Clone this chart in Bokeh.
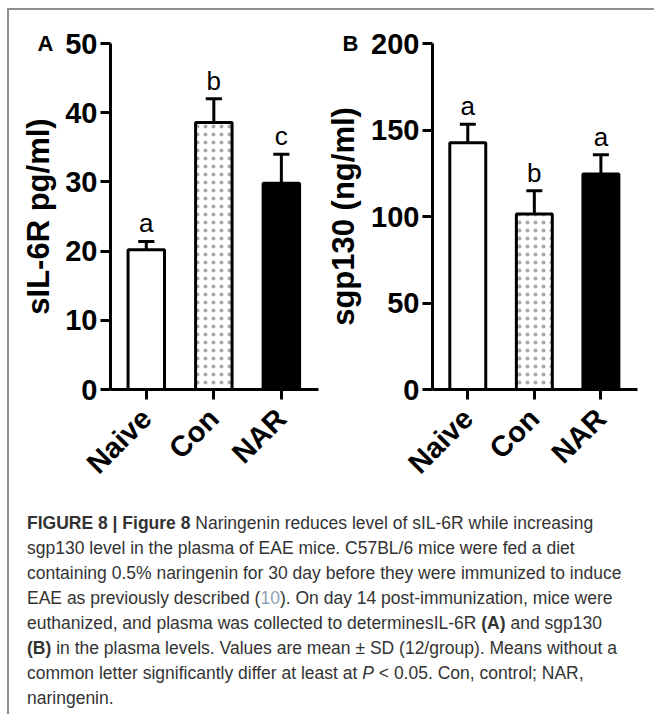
import math
from bokeh.plotting import figure
from bokeh.models import Range1d, FixedTicker, Div, Title
from bokeh.layouts import row, column
from bokeh.embed import file_html
from bokeh.resources import INLINE
from bokeh.core.properties import value

# ---------------- data ----------------
groups = ["Naive", "Con", "NAR"]

il6r_mean = [20.2, 38.6, 29.8]
il6r_sd = [1.2, 3.4, 4.2]
il6r_letters = ["a", "b", "c"]
il6r_ticks = [0, 10, 20, 30, 40, 50]

sgp130_mean = [142.7, 101.4, 124.6]
sgp130_sd = [10.6, 13.5, 11.1]
sgp130_letters = ["a", "b", "a"]
sgp130_ticks = [0, 50, 100, 150, 200]

caption_lines = [
    '<b>FIGURE 8 | Figure 8</b> Naringenin reduces level of sIL-6R while increasing',
    'sgp130 level in the plasma of EAE mice. C57BL/6 mice were fed a diet',
    'containing 0.5% naringenin for 30 day before they were immunized to induce',
    'EAE as previously described (<span style="color:#8fa0b5">10</span>). On day 14 post-immunization, mice were',
    'euthanized, and plasma was collected to determinesIL-6R <b>(A)</b> and sgp130',
    '<b>(B)</b> in the plasma levels. Values are mean &plusmn; SD (12/group). Means without a',
    'common letter significantly differ at least at <i>P</i> &lt; 0.05. Con, control; NAR,',
    'naringenin.',
]

FONT = "Liberation Sans"


def panel(means, sds, letters, ticks, ylabel, tag, tag_offset, label_standoff,
          width, left, right):
    p = figure(width=width, height=483,
               x_range=Range1d(-0.53, 2.55), y_range=Range1d(ticks[0], ticks[-1]),
               output_backend="svg", toolbar_location=None,
               min_border_left=left, min_border_right=right,
               min_border_top=33, min_border_bottom=104)
    p.outline_line_color = None
    p.grid.visible = False
    p.background_fill_color = "white"
    p.border_fill_color = "white"

    # panel tag
    p.add_layout(Title(text=tag, align="left", offset=tag_offset, standoff=-24,
                       text_font=FONT, text_font_size="22px", text_font_style="bold",
                       text_color="black"), "above")

    x = list(range(len(groups)))
    tops = [m + s for m, s in zip(means, sds)]
    # error bars (upper only)
    p.segment(x0=x, y0=means, x1=x, y1=tops, line_width=3, line_color="black")
    p.segment(x0=[i - 0.12 for i in x], y0=tops, x1=[i + 0.12 for i in x], y1=tops,
              line_width=3, line_color="black")
    # bars
    p.vbar(x=x, top=means, bottom=0, width=0.54,
           fill_color=["white", "white", "black"], line_color="black", line_width=3,
           hatch_pattern=[" ", "dot", " "], hatch_color="#a8a8a8",
           hatch_scale=8, hatch_weight=1.5)
    # significance letters
    p.text(x=x, y=tops, text=letters, text_align="center", text_baseline="bottom",
           y_offset=-3, text_font=value(FONT), text_font_size="26px", text_color="black")

    yax = p.yaxis[0]
    yax.ticker = FixedTicker(ticks=ticks)
    yax.axis_line_width = 3
    yax.major_tick_line_width = 3
    yax.major_tick_out = 10
    yax.major_tick_in = 0
    yax.minor_tick_out = 0
    yax.minor_tick_in = 0
    yax.major_label_standoff = 3
    yax.major_label_text_font = FONT
    yax.major_label_text_font_size = "29px"
    yax.major_label_text_font_style = "bold"
    yax.major_label_text_color = "black"
    yax.axis_label = ylabel
    yax.axis_label_text_font = FONT
    yax.axis_label_text_font_size = "31px"
    yax.axis_label_text_font_style = "bold"
    yax.axis_label_text_color = "black"
    yax.axis_label_standoff = label_standoff

    xax = p.xaxis[0]
    xax.ticker = FixedTicker(ticks=x)
    xax.major_label_overrides = {i: g for i, g in zip(x, groups)}
    xax.major_label_orientation = math.pi / 4
    xax.axis_line_width = 3
    xax.major_tick_line_width = 3
    xax.major_tick_out = 10
    xax.major_tick_in = 0
    xax.minor_tick_out = 0
    xax.minor_tick_in = 0
    xax.major_label_standoff = 14
    xax.major_label_text_font = FONT
    xax.major_label_text_font_size = "29px"
    xax.major_label_text_font_style = "bold"
    xax.major_label_text_color = "black"
    return p


pa = panel(il6r_mean, il6r_sd, il6r_letters, il6r_ticks, "sIL-6R pg/ml)", "A", -73, 6,
           width=314, left=101, right=5)
pb = panel(sgp130_mean, sgp130_sd, sgp130_letters, sgp130_ticks, "sgp130 (ng/ml)", "B", -90, 7,
           width=323, left=107, right=9)

caption_html = (
    '<div style="padding:13px 0 0 13px; font-family:\'Liberation Sans\', Arial, sans-serif; '
    'font-size:17.5px; line-height:25px; color:#333333; white-space:nowrap;">'
    + "<br>".join(caption_lines) + "</div>"
)
cap = Div(text=caption_html, width=637, height=213)

layout = column(row(pa, pb, spacing=0), cap, spacing=0, margin=(8, 0, 0, 7),
                styles={"border-top": "2px solid #8f8f8f", "border-left": "2px solid #8f8f8f"})

open("out.html", "w").write(file_html(layout, INLINE))
